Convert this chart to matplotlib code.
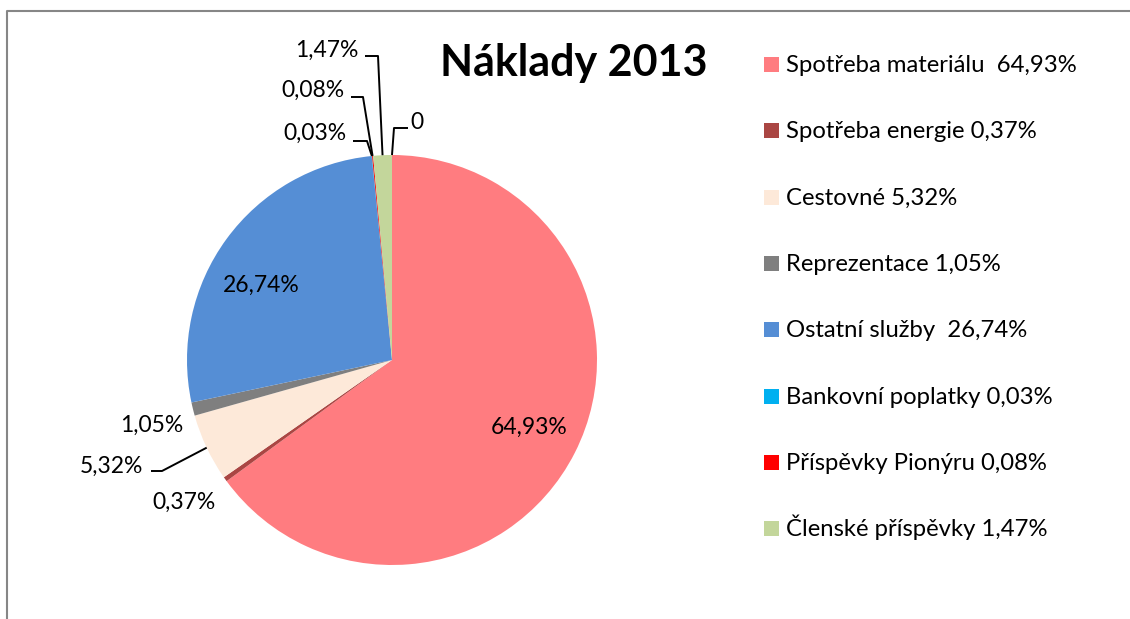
import numpy as np
import matplotlib.pyplot as plt
from matplotlib.lines import Line2D
from matplotlib.patches import Rectangle

plt.rcParams['font.family'] = ['Lato', 'DejaVu Sans']

# data
categories = ['Spotřeba materiálu', 'Spotřeba energie', 'Cestovné', 'Reprezentace',
              'Ostatní služby', 'Bankovní poplatky', 'Příspěvky Pionýru',
              'Členské příspěvky', '']
values = [64.93, 0.37, 5.32, 1.05, 26.74, 0.03, 0.08, 1.47, 0.0]
legend_labels = ['Spotřeba materiálu  64,93%', 'Spotřeba energie 0,37%',
                 'Cestovné 5,32%', 'Reprezentace 1,05%', 'Ostatní služby  26,74%',
                 'Bankovní poplatky 0,03%', 'Příspěvky Pionýru 0,08%',
                 'Členské příspěvky 1,47%']
colors = ['#FF7C80', '#AA4643', '#FDE9D9', '#7F7F7F', '#558ED5',
          '#00B0F0', '#FF0000', '#C3D69B', '#FFFFFF']

W, H = 1130, 619
cx, cy, R = 392, 360, 205


def py(y):
    # pixel row (top down) -> data y
    return H - y


fig = plt.figure(figsize=(W / 100, H / 100), dpi=100)
ax = fig.add_axes([0, 0, 1, 1])
wedges, _ = ax.pie(values, colors=colors, startangle=90, counterclock=False,
                   center=(cx, py(cy)), radius=R,
                   wedgeprops=dict(linewidth=0))
ax.set_xlim(0, W)
ax.set_ylim(0, H)
ax.set_aspect('equal')
ax.axis('off')


def fmt(v):
    return '0' if v == 0 else f'{v:.2f}%'.replace('.', ',')


# label layout: text x, baseline y, ha, leader elbow points (pixels) or None
label_pos = [
    (529, 434, 'center', None),
    (184, 509, 'center', None),
    (143, 473, 'right', [(151, 471), (162, 471)]),
    (152, 432, 'center', None),
    (261, 292, 'center', None),
    (347, 140, 'right', [(353, 141), (367, 141)]),
    (345, 97, 'right', [(351, 97), (363, 97)]),
    (358, 57, 'right', [(365, 56), (378, 56)]),
    (410, 129, 'left', [(408, 128), (394, 128)]),
]

for w, v, (tx, ty, ha, leader) in zip(wedges, values, label_pos):
    ax.text(tx, py(ty), fmt(v), ha=ha, va='baseline', fontsize=16.5, color='black')
    if leader:
        if v == 0:
            ang = np.deg2rad(w.theta1)
        else:
            ang = np.deg2rad((w.theta1 + w.theta2) / 2)
        rim = (cx + R * np.cos(ang), py(cy) + R * np.sin(ang))
        xs = [p[0] for p in leader] + [rim[0]]
        ys = [py(p[1]) for p in leader] + [rim[1]]
        ax.plot(xs, ys, color='black', lw=1.4, solid_capstyle='butt')

# title
ax.text(574, py(76), 'Náklady 2013', ha='center', va='baseline',
        fontsize=31, fontweight='bold')

# legend
for i, (lab, col) in enumerate(zip(legend_labels, colors)):
    base = 72 + i * 66.3
    ax.add_patch(Rectangle((764, py(base)), 15, 15, facecolor=col, edgecolor='none'))
    ax.text(786, py(base), lab, ha='left', va='baseline', fontsize=17.2)

# chart frame (top and left edges visible)
fig.add_artist(Line2D([6.5 / W, 6.5 / W, 1.0], [0.0, 1 - 10.5 / H, 1 - 10.5 / H],
                      transform=fig.transFigure, color='#868686', lw=1.5))

plt.savefig('out.png', dpi=100)
